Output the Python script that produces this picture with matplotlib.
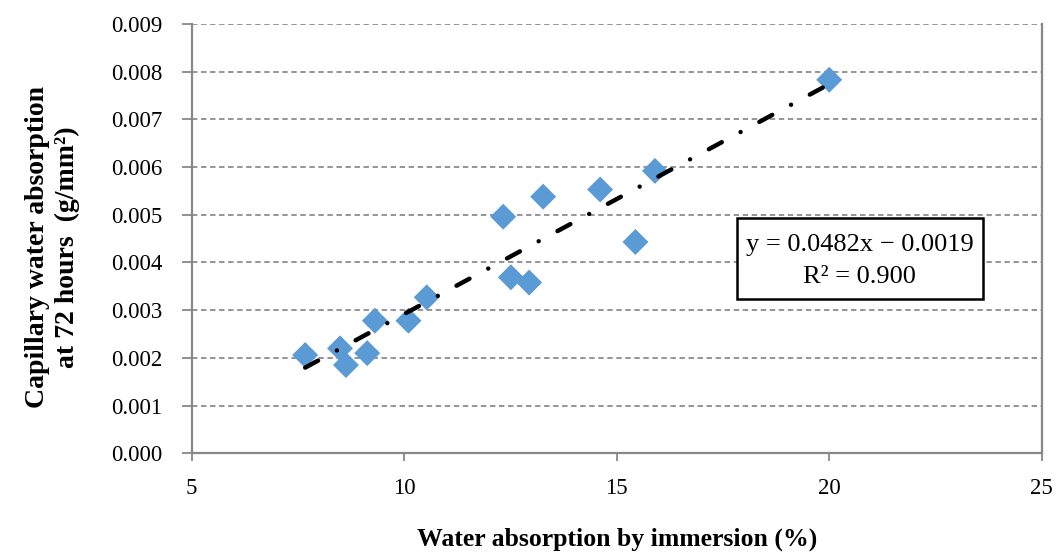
import matplotlib
matplotlib.use("Agg")
import matplotlib.pyplot as plt
from matplotlib.patches import Rectangle
import numpy as np

# water absorption by immersion (%) vs capillary absorption at 72 h (g/mm2)
immersion = [7.67, 8.49, 8.63, 9.13, 9.31, 10.10, 10.53, 12.33, 12.51,
             12.94, 13.27, 14.61, 15.44, 15.90, 20.0]
capillary = [0.00206, 0.00220, 0.00185, 0.00210, 0.00278, 0.00278, 0.00327,
             0.00496, 0.00369, 0.00358, 0.00538, 0.00553, 0.00443, 0.00592,
             0.00783]
slope = 0.0482
intercept = -0.0019
r2 = 0.900

x_ticks = [5, 10, 15, 20, 25]
y_ticks = np.arange(0, 0.0091, 0.001)


def main():
    plt.rcParams["font.family"] = ["Liberation Serif", "DejaVu Serif"]
    fig = plt.figure(figsize=(10.59, 5.6), dpi=100)
    ax = fig.add_axes([0.181, 0.1905, 0.8027, 0.7667])

    ax.scatter(immersion, capillary, marker="D", s=175, color="#5b9bd5",
               edgecolors="none", zorder=3)

    # excel trendline fitted on fractions, so scale x by 1/100
    xs = np.array([min(immersion), max(immersion)])
    ax.plot(xs, slope * xs / 100 + intercept, color="black", lw=3.2,
            linestyle=(0, (3.3, 4.8, 0.01, 4.8)), dash_capstyle="round",
            zorder=4)

    ax.set_xlim(5, 25)
    ax.set_ylim(0, 0.009)
    ax.set_xticks(x_ticks)
    ax.set_yticks(y_ticks)
    ax.set_yticklabels([f"{v:.3f}" for v in y_ticks])
    ax.tick_params(labelsize=16.5, colors="#888888", labelcolor="black",
                   width=1.3)
    ax.tick_params(axis="x", direction="out", length=6, pad=12)
    ax.tick_params(axis="y", direction="out", length=7, pad=14)

    ax.grid(axis="y", linestyle=(0, (3, 2)), color="#8c8c8c", lw=1.3)
    ax.set_axisbelow(True)
    for side in ["left", "bottom", "right"]:
        ax.spines[side].set_color("#888888")
        ax.spines[side].set_linewidth(1.6)
    ax.spines["top"].set_visible(False)

    ax.set_xlabel("Water absorption by immersion (%)", fontsize=18.5,
                  fontweight="bold", labelpad=20)
    ax.set_ylabel("Capillary water absorption\nat 72 hours  (g/mm\u00b2)",
                  fontsize=20, fontweight="bold", linespacing=1.25)
    ax.yaxis.set_label_coords(-0.131, 0.48)

    # equation box
    ax.add_patch(Rectangle((0.6412, 0.3594), 0.2901, 0.188,
                           transform=ax.transAxes, fc="white", ec="black",
                           lw=1.8, zorder=5))
    ax.text(0.786, 0.485, f"y = {slope}x \u2212 0.0019",
            transform=ax.transAxes, ha="center", va="center", fontsize=19,
            zorder=6)
    ax.text(0.786, 0.411, f"R\u00b2 = {r2:.3f}",
            transform=ax.transAxes, ha="center", va="center", fontsize=19,
            zorder=6)

    fig.savefig("out.png", dpi=100)


if __name__ == "__main__":
    main()
